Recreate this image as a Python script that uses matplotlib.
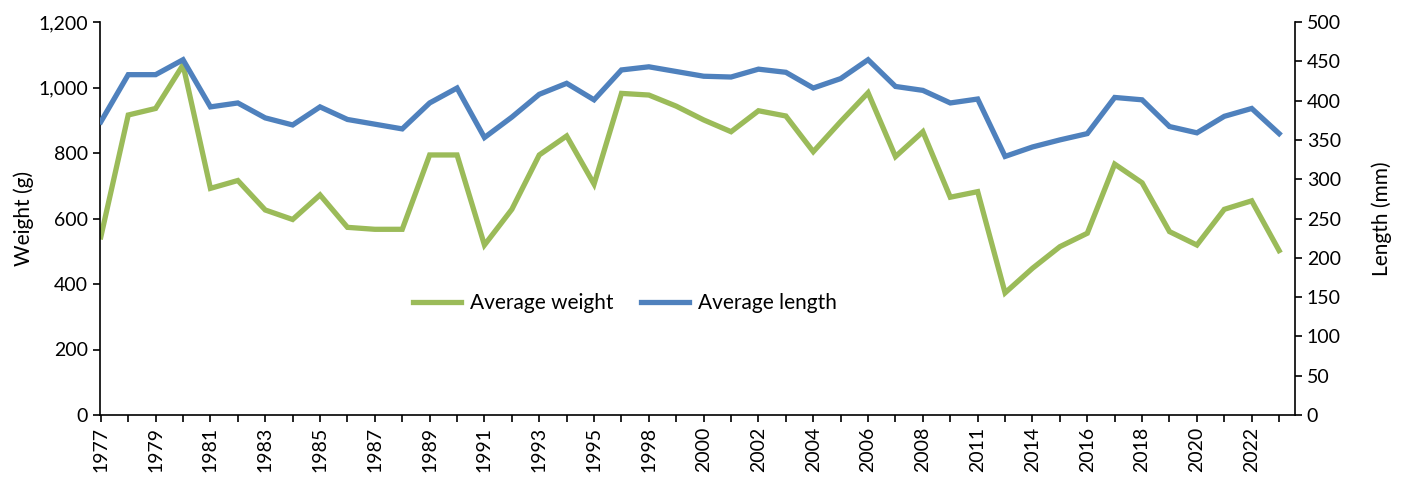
import numpy as np
import matplotlib.pyplot as plt
from matplotlib.ticker import FuncFormatter

plt.rcParams['font.family'] = ['Lato', 'DejaVu Sans']

years = ['1977', '1978', '1979', '1980', '1981', '1982', '1983', '1984', '1985', '1986',
         '1987', '1988', '1989', '1990', '1991', '1992', '1993', '1994', '1995', '1997',
         '1998', '1999', '2000', '2001', '2002', '2003', '2004', '2005', '2006', '2007',
         '2008', '2010', '2011', '2013', '2014', '2015', '2016', '2017', '2018', '2019',
         '2020', '2021', '2022', '2023']

weight = [544, 916, 936, 1069, 692, 716, 626, 597, 672, 573,
          567, 567, 794, 794, 519, 628, 794, 852, 705, 982,
          977, 943, 901, 865, 929, 913, 804, 896, 984, 789,
          865, 665, 682, 373, 448, 514, 555, 766, 709, 560,
          519, 628, 654, 502]

length = [373, 433, 433, 452, 392, 397, 378, 369, 392, 376,
          370, 364, 397, 416, 353, 379, 408, 422, 401, 439,
          443, 437, 431, 430, 440, 436, 416, 428, 452, 418,
          413, 397, 402, 329, 341, 350, 358, 404, 401, 367,
          359, 380, 390, 358]

x = np.arange(len(years))

fig = plt.figure(figsize=(14.05, 4.78), dpi=100)
ax = fig.add_axes([100/1405, 1-415/478, 1195/1405, 393/478])
ax2 = ax.twinx()

l1, = ax.plot(x, weight, color='#9BBB59', lw=3.8, solid_joinstyle='miter', label='Average weight')
l2, = ax2.plot(x, length, color='#4F81BD', lw=3.8, solid_joinstyle='miter', label='Average length')

ax.set_xlim(-0.03, 43.58)
ax.set_ylim(0, 1200)
ax2.set_ylim(0, 500)
ax.set_yticks(np.arange(0, 1201, 200))
ax2.set_yticks(np.arange(0, 501, 50))
ax.yaxis.set_major_formatter(FuncFormatter(lambda v, p: '{:,.0f}'.format(v)))

ax.set_xticks(x)
ax.set_xticklabels([y if i % 2 == 0 else '' for i, y in enumerate(years)], rotation=90)

for a in (ax, ax2):
    a.spines['top'].set_visible(False)
    a.tick_params(direction='out', length=5, width=1.2, labelsize=14, colors='black')
    for s in a.spines.values():
        s.set_linewidth(1.2)
ax.spines['right'].set_visible(False)
ax2.spines['left'].set_visible(False)
ax2.spines['bottom'].set_visible(False)

ax.set_ylabel('Weight (g)', fontsize=15, labelpad=3)
ax2.set_ylabel('Length (mm)', fontsize=15, labelpad=22)

fig.legend(handles=[l1, l2], loc='center', bbox_to_anchor=(625/1405, 1-303/478), ncol=2,
           frameon=False, fontsize=15, handlelength=2.3, columnspacing=1.3, handletextpad=0.45)

fig.savefig('out.png', dpi=100)
